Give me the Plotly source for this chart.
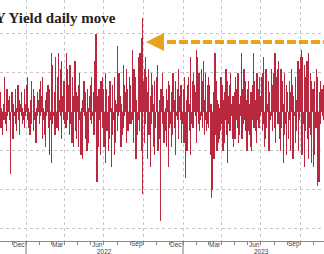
import pandas as pd
import plotly.graph_objects as go

# daily move values (bp) per month, one per business day
m2021_11 = [3,-1,5,-4,1,-6,2,0,-2,9,-3,1,-5,6,-1,3,-2,4,-1,-16,5,-3]
m2021_12 = [4,-7,2,-1,6,-3,1,-5,7,0,-2,3,-6,2,-1,5,-3,1,-2,6,-4,2,-1]
m2022_01 = [7,-2,9,-4,1,-6,3,-1,8,-3,0,-5,6,-2,4,-8,1,-3,5,-1,3]
m2022_02 = [6,-3,8,-1,4,-7,9,-2,1,-6,3,-9,5,-1,7,-4,2,-11,6,-2]
m2022_03 = [-13,15,-3,12,-1,5,-6,14,2,-4,9,-2,15,-5,3,11,-1,13,-7,4,-2,8,-3]
m2022_04 = [6,-4,15,-2,11,-1,7,-6,12,-3,2,-8,9,-1,4,-9,13,-5,1,-7,5]
m2022_05 = [4,-9,7,-2,10,-11,1,-6,3,-12,8,-1,5,-7,2,-10,6,-3,1,-8,4,-2]
m2022_06 = [7,-3,9,-1,5,-6,2,13,20,-8,-18,4,-9,6,-2,3,-11,8,-4,9,-1,6]
m2022_07 = [-9,-13,10,-3,6,-5,2,-10,4,-7,8,-14,1,-6,7,-2,9,-11,3,-8,2]
m2022_08 = [17,-5,8,-1,10,-3,4,-9,2,-6,12,-4,7,-1,5,-8,11,-2,6,-5,9,-3,7]
m2022_09 = [5,-3,16,-2,7,-8,11,-4,9,-12,3,-6,14,-2,10,-5,15,19,-10,24,-21,8]
m2022_10 = [11,-8,14,-3,9,-12,5,-2,11,-6,4,-14,10,-3,7,-9,2,-11,8,-4,6]
m2022_11 = [9,-5,12,-10,3,-7,2,-28,6,-3,10,-2,4,-8,1,-5,6,-9,3,-14,8,-4]
m2022_12 = [7,-3,5,-9,2,-6,10,-4,3,-11,8,-1,6,-2,11,-7,4,-2,7,-8,5,-3]
m2023_01 = [6,-8,9,-2,-17,3,-10,7,-1,9,-5,2,-11,14,-3,8,-4,10,-2,7,-1,5]
m2023_02 = [-8,16,14,-3,10,-5,6,-2,11,-1,8,-4,13,-6,3,-2,10,-5,7,-3]
m2023_03 = [9,-4,7,-11,2,-14,-22,-20,5,-12,9,15,-6,8,-10,3,-8,2,-7,1,-5,9,-3]
m2023_04 = [7,-10,3,-8,5,-2,11,-6,8,-13,4,-3,7,-5,10,-1,2,-7,4,-9]
m2023_05 = [5,-7,9,-2,6,-4,10,-8,2,-6,4,-1,15,-7,6,-3,11,-2,8,-5,3,-10,6]
m2023_06 = [-5,8,-6,2,-9,5,-10,7,-2,15,-4,8,-5,3,-8,10,-2,6,-4,9,-1,4]
m2023_07 = [9,-5,10,-3,14,-9,4,-7,11,-4,2,-3,8,-10,5,-2,11,-1,7,-5,10]
m2023_08 = [6,-4,15,-8,9,-2,11,-3,13,-7,5,-10,11,-4,8,-13,2,-6,10,-3,7,-11,5]
m2023_09 = [4,-7,8,-2,5,-10,11,-3,7,-12,4,-1,9,-8,3,-5,13,-10,6,-2,11]
m2023_10 = [14,-6,16,-11,14,-3,12,-14,9,-5,13,-7,11,-12,15,-4,10,-6,8,-13,6,-10]
m2023_11 = [-14,-11,8,-4,11,-2,9,-19,-18,5,-2,8,-3,6,-1,4,-2,7]

months = [
    ("2021-11", m2021_11), ("2021-12", m2021_12),
    ("2022-01", m2022_01), ("2022-02", m2022_02), ("2022-03", m2022_03),
    ("2022-04", m2022_04), ("2022-05", m2022_05), ("2022-06", m2022_06),
    ("2022-07", m2022_07), ("2022-08", m2022_08), ("2022-09", m2022_09),
    ("2022-10", m2022_10), ("2022-11", m2022_11), ("2022-12", m2022_12),
    ("2023-01", m2023_01), ("2023-02", m2023_02), ("2023-03", m2023_03),
    ("2023-04", m2023_04), ("2023-05", m2023_05), ("2023-06", m2023_06),
    ("2023-07", m2023_07), ("2023-08", m2023_08), ("2023-09", m2023_09),
    ("2023-10", m2023_10), ("2023-11", m2023_11),
]

tick_month_labels = ["Dec", "Mar", "Jun", "Sep", "Dec", "Mar", "Jun", "Sep"]
tick_month_dates = ["2021-12-16", "2022-03-16", "2022-06-16", "2022-09-16",
                    "2022-12-16", "2023-03-16", "2023-06-16", "2023-09-16"]
grid_dates = ["2022-01-01", "2022-04-01", "2022-07-01", "2022-10-01",
              "2023-01-01", "2023-04-01", "2023-07-01", "2023-10-01"]
year_labels = ["2022", "2023"]
year_mid = ["2022-07-02", "2023-07-02"]
year_starts = ["2022-01-01", "2023-01-01"]
title_text = "10Y Yield daily move"

dates, vals = [], []
for m, v in months:
    start = pd.Timestamp(m + "-01")
    end = start + pd.offsets.MonthEnd(0)
    bd = pd.bdate_range(start, end)
    for d, val in zip(bd, v):
        dates.append(d)
        vals.append(val)

x_range = ["2021-11-01 11:00", "2023-11-24 19:00"]

fig = go.Figure()
fig.add_trace(go.Bar(
    x=dates, y=vals,
    marker=dict(color="#b8283f", line=dict(width=0)),
    width=86400000 * 0.75,
    showlegend=False,
))

fig.update_layout(
    width=324, height=254,
    margin=dict(l=0, r=0, t=0, b=13),
    paper_bgcolor="white", plot_bgcolor="white",
    xaxis=dict(
        type="date", range=x_range,
        tickvals=grid_dates, showticklabels=False, ticks="",
        showgrid=True, gridcolor="#c8c8c8", griddash="dot", gridwidth=1,
        showline=True, linecolor="#8a8a8a", linewidth=1,
        minor=dict(dtick="M1", tick0="2021-11-01", ticks="outside", ticklen=3,
                   tickcolor="#8a8a8a", showgrid=False),
        zeroline=False,
    ),
    yaxis=dict(
        range=[-33.1, 28.7], dtick=10, tick0=0,
        showticklabels=False, showgrid=True, gridcolor="#c8c8c8",
        griddash="dot", gridwidth=1, zeroline=False, showline=False,
    ),
    bargap=0,
)

axis_font = dict(size=6.5, color="#444", family="Liberation Sans")
for lbl, xm in zip(tick_month_labels, tick_month_dates):
    fig.add_annotation(x=xm, y=-0.0145, xref="x", yref="paper", text=lbl,
                       showarrow=False, font=axis_font,
                       yanchor="middle", xanchor="center")
for lbl, xm in zip(year_labels, year_mid):
    fig.add_annotation(x=xm, y=-0.042, xref="x", yref="paper", text=lbl,
                       showarrow=False, font=axis_font,
                       yanchor="middle", xanchor="center")
for ys in year_starts:
    fig.add_shape(type="line", xref="x", yref="paper", x0=ys, x1=ys, y0=0, y1=-0.06,
                  line=dict(color="#777", width=1))

fig.add_annotation(x=118 / 324, y=(241 - 18) / 241, xref="paper", yref="paper",
                   text="<b>" + title_text + "</b>", showarrow=False,
                   xanchor="right", yanchor="middle",
                   font=dict(size=15, color="#222", family="Liberation Serif"))

gold = "#e8a21c"
fig.add_shape(type="line", xref="paper", yref="y", x0=155 / 324, x1=1.0, y0=17.9, y1=17.9,
              line=dict(color=gold, width=4, dash="9px,3px"))
fig.add_annotation(x=146 / 324, y=17.9, xref="paper", yref="y", ax=14, ay=0,
                   showarrow=True, arrowhead=2, arrowsize=0.9, arrowwidth=4,
                   arrowcolor=gold, text="")

fig.write_html("out.html")
